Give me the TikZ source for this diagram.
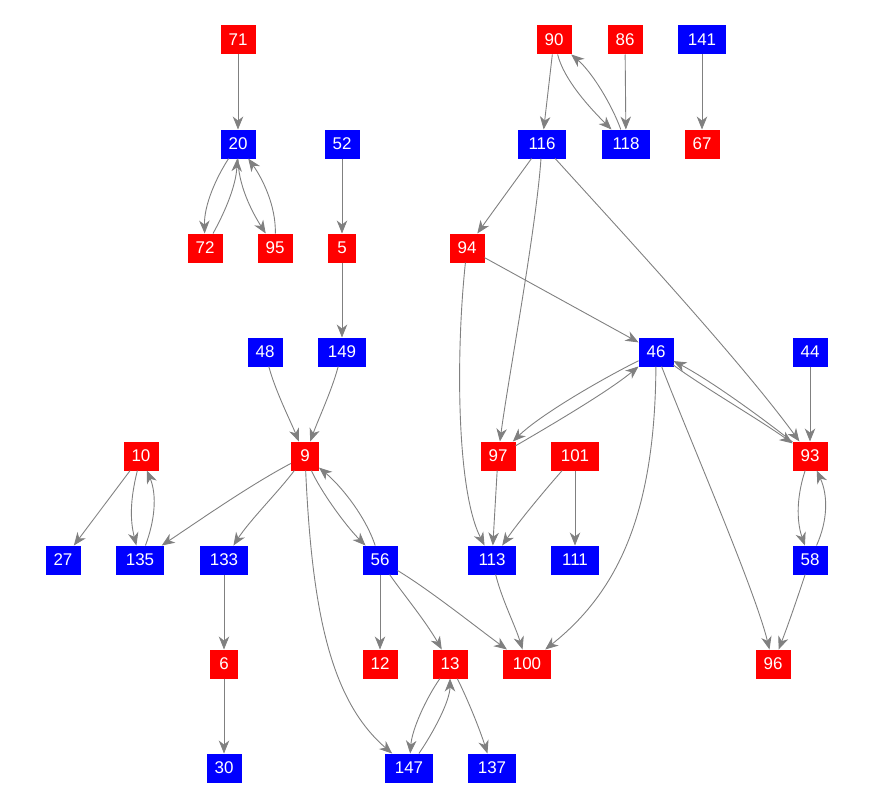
\documentclass[tikz,border=0pt]{standalone}
\usepackage{fontspec}
\setmainfont{Liberation Sans}
\usetikzlibrary{arrows.meta}
\definecolor{nred}{RGB}{255,0,0}
\definecolor{nblue}{RGB}{0,0,255}
\definecolor{egray}{RGB}{128,128,128}
\tikzset{
  nd/.style={inner sep=0pt, minimum height=29bp, text=white, font=\fontsize{17}{17}\selectfont, outer sep=0pt},
  w1/.style={nd, minimum width=28bp},
  w2/.style={nd, minimum width=35bp},
  w3/.style={nd, minimum width=48bp},
  rn/.style={fill=nred},
  bn/.style={fill=nblue},
  e/.style={draw=egray, line width=0.9pt, -{Stealth[length=13pt, width=10.5pt, inset=4pt]}},
}
\begin{document}
\begin{tikzpicture}[x=1bp,y=-1bp]
\useasboundingbox (0,0) rectangle (876,808);
% nodes
\node[w2,rn] (n71) at (238,40) {71};
\node[w2,bn] (n20) at (238,144) {20};
\node[w2,bn] (n52) at (342,144) {52};
\node[w2,rn] (n72) at (205,248) {72};
\node[w2,rn] (n95) at (275,248) {95};
\node[w1,rn] (n5) at (342,248) {5};
\node[w2,rn] (n90) at (554,40) {90};
\node[w2,rn] (n86) at (625,40) {86};
\node[w3,bn] (n141) at (702,40) {141};
\node[w3,bn] (n116) at (542,144) {116};
\node[w3,bn] (n118) at (626,144) {118};
\node[w2,rn] (n67) at (702,144) {67};
\node[w2,rn] (n94) at (467,248) {94};
\node[w2,bn] (n48) at (265,352) {48};
\node[w3,bn] (n149) at (342,352) {149};
\node[w2,bn] (n46) at (656,352) {46};
\node[w2,bn] (n44) at (810,352) {44};
\node[w2,rn] (n10) at (141,456) {10};
\node[w1,rn] (n9) at (305,456) {9};
\node[w2,rn] (n97) at (498,456) {97};
\node[w3,rn] (n101) at (575,456) {101};
\node[w2,rn] (n93) at (810,456) {93};
\node[w2,bn] (n27) at (63,560) {27};
\node[w3,bn] (n135) at (140,560) {135};
\node[w3,bn] (n133) at (224,560) {133};
\node[w2,bn] (n56) at (380,560) {56};
\node[w3,bn] (n113) at (492,560) {113};
\node[w3,bn] (n111) at (575,560) {111};
\node[w2,bn] (n58) at (810,560) {58};
\node[w1,rn] (n6) at (224,664) {6};
\node[w2,rn] (n12) at (380,664) {12};
\node[w2,rn] (n13) at (450,664) {13};
\node[w3,rn] (n100) at (527,664) {100};
\node[w2,rn] (n96) at (773,664) {96};
\node[w2,bn] (n30) at (224,768) {30};
\node[w3,bn] (n147) at (409,768) {147};
\node[w3,bn] (n137) at (492,768) {137};
% edges
\draw[e] (n71) -- (n20);
\draw[e] (n20) .. controls (216,178) and (204,205) .. (n72);
\draw[e] (n72) .. controls (226,210) and (236,185) .. (n20);
\draw[e] (n20) .. controls (238,185) and (252,212) .. (n95);
\draw[e] (n95) .. controls (276,205) and (262,178) .. (n20);
\draw[e] (n52) -- (n5);
\draw[e] (n5) -- (n149);
\draw[e] (n90) -- (n116);
\draw[e] (n90) .. controls (564,80) and (590,108) .. (n118);
\draw[e] (n118) .. controls (612,105) and (592,72) .. (n90);
\draw[e] (n86) -- (n118);
\draw[e] (n141) -- (n67);
\draw[e] (n116) .. controls (516,180) and (494,210) .. (n94);
\draw[e] (n116) .. controls (536,230) and (508,380) .. (n97);
\draw[e] (n116) .. controls (620,230) and (740,360) .. (n93);
\draw[e] (n94) -- (n46);
\draw[e] (n94) .. controls (456,350) and (456,490) .. (n113);
\draw[e] (n48) .. controls (275,390) and (290,420) .. (n9);
\draw[e] (n149) .. controls (332,390) and (318,420) .. (n9);
\draw[e] (n46) .. controls (600,380) and (540,415) .. (n97);
\draw[e] (n97) .. controls (560,420) and (610,390) .. (n46);
\draw[e] (n46) .. controls (700,385) and (760,420) .. (n93);
\draw[e] (n93) .. controls (765,420) and (710,380) .. (n46);
\draw[e] (n46) .. controls (655,510) and (620,590) .. (n100);
\draw[e] (n46) .. controls (690,440) and (755,590) .. (n96);
\draw[e] (n44) -- (n93);
\draw[e] (n93) .. controls (797,495) and (796,520) .. (n58);
\draw[e] (n58) .. controls (828,520) and (828,495) .. (n93);
\draw[e] (n58) .. controls (800,590) and (790,620) .. (n96);
\draw[e] (n10) -- (n27);
\draw[e] (n10) .. controls (130,500) and (130,520) .. (n135);
\draw[e] (n135) .. controls (155,520) and (157,495) .. (n10);
\draw[e] (n9) .. controls (250,485) and (200,520) .. (n135);
\draw[e] (n9) .. controls (280,490) and (250,520) .. (n133);
\draw[e] (n9) .. controls (320,490) and (345,525) .. (n56);
\draw[e] (n56) .. controls (365,515) and (340,485) .. (n9);
\draw[e] (n9) .. controls (312,610) and (330,700) .. (n147);
\draw[e] (n133) -- (n6);
\draw[e] (n6) -- (n30);
\draw[e] (n56) -- (n12);
\draw[e] (n56) .. controls (400,590) and (425,620) .. (n13);
\draw[e] (n56) .. controls (430,590) and (480,630) .. (n100);
\draw[e] (n13) .. controls (425,700) and (412,730) .. (n147);
\draw[e] (n147) .. controls (435,730) and (450,700) .. (n13);
\draw[e] (n13) .. controls (468,700) and (480,730) .. (n137);
\draw[e] (n97) -- (n113);
\draw[e] (n101) .. controls (545,490) and (520,520) .. (n113);
\draw[e] (n101) -- (n111);
\draw[e] (n113) .. controls (502,600) and (515,625) .. (n100);
\end{tikzpicture}
\end{document}
